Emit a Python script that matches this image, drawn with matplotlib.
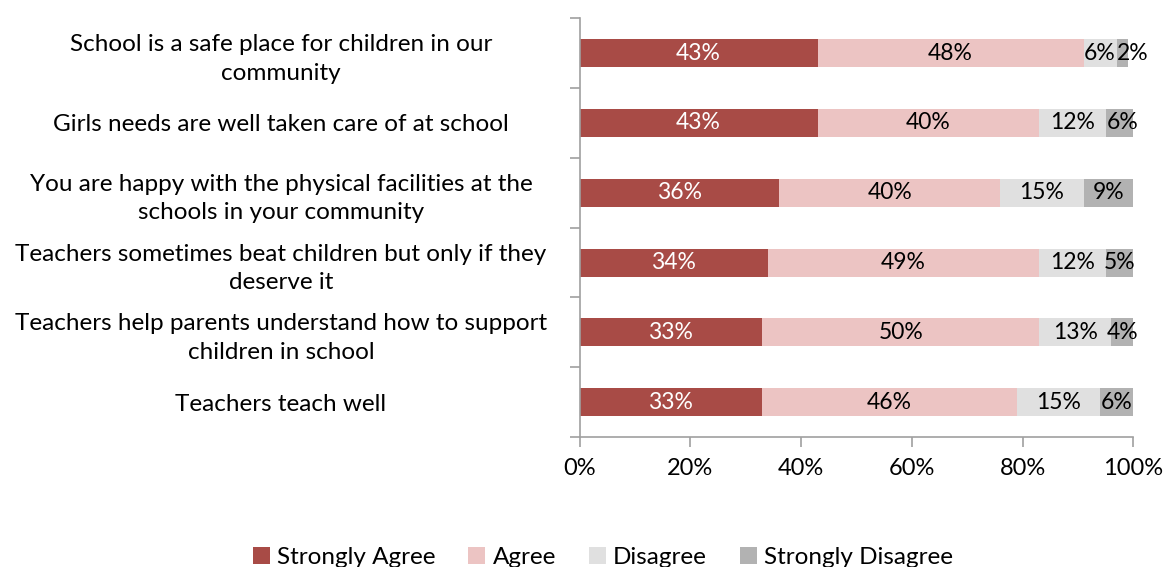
import numpy as np
import matplotlib
matplotlib.use("Agg")
import matplotlib.pyplot as plt
from matplotlib.ticker import FixedLocator, PercentFormatter

plt.rcParams['font.family'] = ['Lato', 'DejaVu Sans']

# statements, listed top to bottom
statements = [
    "School is a safe place for children in our\ncommunity",
    "Girls needs are well taken care of at school",
    "You are happy with the physical facilities at the\nschools in your community",
    "Teachers sometimes beat children but only if they\ndeserve it",
    "Teachers help parents understand how to support\nchildren in school",
    "Teachers teach well",
]
strongly_agree = [43, 43, 36, 34, 33, 33]
agree = [48, 40, 40, 49, 50, 46]
disagree = [6, 12, 15, 12, 13, 15]
strongly_disagree = [2, 6, 9, 5, 4, 6]

series_names = ["Strongly Agree", "Agree", "Disagree", "Strongly Disagree"]
series = [strongly_agree, agree, disagree, strongly_disagree]
colors = ["#A84B46", "#ECC4C3", "#E0E0E0", "#B2B2B2"]
text_colors = ["white", "black", "black", "black"]

fig = plt.figure(figsize=(11.66, 5.67), dpi=100)
ax = fig.add_axes([0.497, 0.229, 0.475, 0.739])

n = len(statements)
y = np.arange(n)[::-1]
left = np.zeros(n)
for name, vals, col, tcol in zip(series_names, series, colors, text_colors):
    vals = np.array(vals, dtype=float)
    bars = ax.barh(y, vals, height=0.4, left=left, color=col, label=name)
    for rect, v in zip(bars, vals):
        cy = rect.get_y() + rect.get_height() / 2.0
        if rect.get_width() < 4:
            # too thin to hold its label: start the text at the segment edge
            ax.text(rect.get_x(), cy, "%d%%" % v, ha="left", va="center",
                    color=tcol, fontsize=16.5)
        else:
            cx = rect.get_x() + rect.get_width() / 2.0
            ax.text(cx, cy, "%d%%" % v, ha="center", va="center",
                    color=tcol, fontsize=16.5)
    left += vals

ax.set_xlim(0, 100)
ax.set_ylim(-0.5, n - 0.5)
ax.set_xticks(np.arange(0, 101, 20))
ax.xaxis.set_major_formatter(PercentFormatter(decimals=0))

ax.set_yticks(y)
ax.set_yticklabels(statements, ha="center", multialignment="center",
                   linespacing=1.45)
ax.yaxis.set_minor_locator(FixedLocator(np.arange(-0.5, n, 1.0)))
ax.tick_params(axis="y", which="major", length=0, pad=215, labelsize=17.5)
ax.tick_params(axis="y", which="minor", length=7, color="#A0A0A0", width=1.2)
ax.tick_params(axis="x", length=7, color="#A0A0A0", width=1.2, labelsize=17, pad=8)

for side in ["top", "right"]:
    ax.spines[side].set_visible(False)
for side in ["left", "bottom"]:
    ax.spines[side].set_color("#A0A0A0")
    ax.spines[side].set_linewidth(1.2)

fig.legend(loc="lower center", bbox_to_anchor=(0.517, -0.04), ncol=4,
           frameon=False, fontsize=17.5, handlelength=0.7, handleheight=0.7,
           handletextpad=0.3, columnspacing=1.35)

fig.savefig("out.png", dpi=100)
